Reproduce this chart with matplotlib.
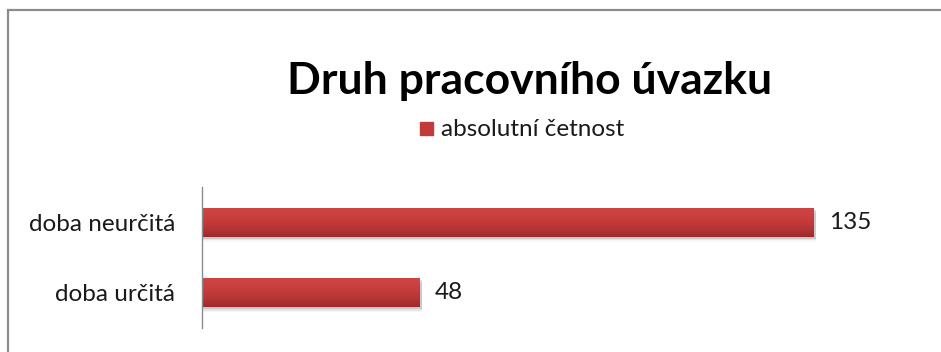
import matplotlib
matplotlib.use("Agg")
import matplotlib.pyplot as plt
import numpy as np
from matplotlib.patches import Rectangle
from matplotlib.colors import LinearSegmentedColormap

categories = ["doba určitá", "doba neurčitá"]
values = [48, 135]
series_name = "absolutní četnost"
title = "Druh pracovního úvazku"

plt.rcParams['font.family'] = ['Lato', 'DejaVu Sans']

W, H = 941, 352
fig = plt.figure(figsize=(W / 100, H / 100), dpi=100)
fig.patch.set_facecolor("white")

# outer frame (extends beyond right/bottom edge as in the reference)
frame = Rectangle((8 / W, -0.05), 1.1, 1 - 10 / H + 0.05, transform=fig.transFigure,
                  fill=False, edgecolor="#8c8c8c", linewidth=1.6, clip_on=False)
fig.add_artist(frame)

ax_left, ax_right = 202 / W, (202 + 160 * 4.526) / W
ax_top, ax_bot = 1 - 187 / H, 1 - 328 / H
ax = fig.add_axes([ax_left, ax_bot, ax_right - ax_left, ax_top - ax_bot])
ax.set_xlim(0, 160)
ax.set_ylim(-0.5, len(categories) - 0.5)
ax.set_facecolor("none")

bar_h = 0.41
cmap = LinearSegmentedColormap.from_list(
    "redgrad", ["#9e2a2a", "#b33333", "#c23a3a", "#cb4040", "#cf4343"])
grad = np.linspace(0, 1, 64).reshape(-1, 1)

ypos = np.arange(len(categories))
bars = ax.barh(ypos, values, height=bar_h, color="#c23a3a", zorder=3)
for i, b in enumerate(bars):
    x0, y0, w, h = b.get_x(), b.get_y(), b.get_width(), b.get_height()
    # soft shadow below the bar
    for k, a in zip([0.03, 0.05, 0.07], [0.18, 0.10, 0.05]):
        ax.add_patch(Rectangle((x0, y0 - k), w + 0.6, h, color="#555555", alpha=a,
                               linewidth=0, zorder=2))
    im = ax.imshow(grad, cmap=cmap, aspect="auto", origin="lower",
                   extent=(x0, x0 + w, y0, y0 + h), zorder=4)
    im.set_clip_path(b)
    ax.text(x0 + w + 3.5, y0 + h / 2, f"{values[i]}",
            va="center", ha="left", fontsize=17.5, color="#1a1a1a")

ax.set_yticks(ypos)
ax.set_yticklabels(categories, fontsize=17.5, color="#1a1a1a")
ax.tick_params(axis="y", length=0, pad=19.5)
ax.set_xticks([])
for s in ["top", "right", "bottom"]:
    ax.spines[s].set_visible(False)
ax.spines["left"].set_color("#8c8c8c")
ax.spines["left"].set_linewidth(1.0)
ax.spines["left"].set_zorder(5)

fig.text(530 / W, 1 - 81 / H, title, ha="center", va="center",
         fontsize=32, fontweight="bold", color="#000000")

# legend
fig.add_artist(Rectangle((420 / W, 1 - 135 / H), 13 / W, 13 / H,
                         transform=fig.transFigure, color="#c23a3a"))
fig.text(441 / W, 1 - 129 / H, series_name, ha="left", va="center",
         fontsize=17.5, color="#1a1a1a")

fig.savefig("out.png", dpi=100, facecolor="white")
